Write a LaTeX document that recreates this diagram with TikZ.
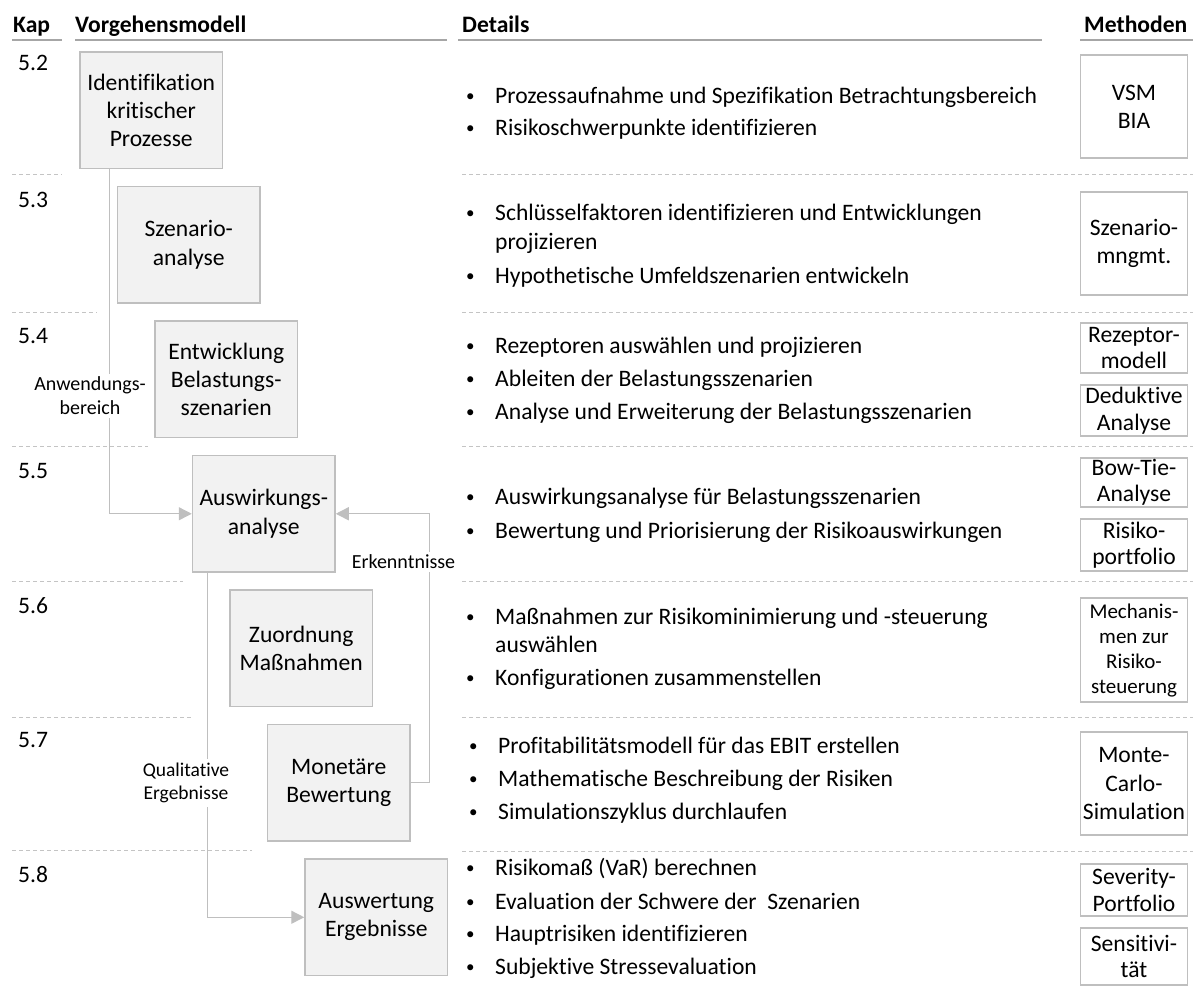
\documentclass[tikz,border=0pt]{standalone}
\usepackage{fontspec}
\setmainfont{Carlito}[Ligatures={NoCommon,NoContextual}]
\usetikzlibrary{arrows.meta,calc}

\definecolor{boxfill}{HTML}{F2F2F2}
\definecolor{boxline}{HTML}{BFBFBF}
\definecolor{sepline}{HTML}{C4C4C4}
\definecolor{rulecol}{HTML}{A6A6A6}

\newcommand{\mainfs}{\fontsize{23.6}{28.3}\selectfont}
\newcommand{\itembullet}{\makebox[29pt][l]{\raisebox{1.5pt}{\fontsize{17}{17}\selectfont\textbullet}}}

\begin{document}
\begin{tikzpicture}[x=1pt,y=-1pt,
  phase/.style={draw=boxline, fill=boxfill, line width=1.5pt,
    minimum width=142.5pt, minimum height=116.5pt, inner sep=0pt,
    align=center, font=\mainfs},
  method/.style={draw=boxline, fill=white, line width=1.5pt,
    minimum width=107pt, inner sep=0pt, align=center, font=\mainfs},
  smallmethod/.style={method, font=\fontsize{23.6}{26.5}\selectfont},
  conn/.style={draw=boxline, line width=1.4pt},
  arr/.style={conn, -{Triangle[length=13pt,width=13pt]}},
  flowlabel/.style={fill=white, inner sep=3pt, align=center,
    font=\fontsize{20}{24}\selectfont},
  item/.style={anchor=base west, inner sep=0pt, font=\fontsize{23.6}{29}\selectfont},
  chap/.style={anchor=base west, inner sep=0pt, font=\mainfs},
  head/.style={anchor=base west, inner sep=0pt, font=\mainfs\bfseries},
  sep/.style={draw=sepline, line width=1pt, dash pattern=on 4pt off 3pt},
  hrule/.style={draw=rulecol, line width=1.2pt}
]
\useasboundingbox (0,0) rectangle (1196,997);

% column headings
\node[head] (hKap) at (13,32) {Kap};
\node[head] (hVor) at (75,32) {Vorgehensmodell};
\node[head] (hDet) at (462,32) {Details};
\node[head] (hMet) at (1084,32) {Methoden};
\draw[hrule] (12,40) -- (62,40);
\draw[hrule] (75,40) -- (447,40);
\draw[hrule] (458,40) -- (1042,40);
\draw[hrule] (1080,40) -- (1193,40);

% chapter numbers
\node[chap] (k52) at (18,70) {5.2};
\node[chap] (k53) at (18,207) {5.3};
\node[chap] (k54) at (18,343) {5.4};
\node[chap] (k55) at (18,478) {5.5};
\node[chap] (k56) at (18,613) {5.6};
\node[chap] (k57) at (18,747) {5.7};
\node[chap] (k58) at (18,882) {5.8};

% dashed separators between the chapters
\draw[sep] (12,174) -- (62,174);
\draw[sep] (12,312) -- (97,312);
\draw[sep] (12,446) -- (148,446);
\draw[sep] (12,581) -- (183,581);
\draw[sep] (12,717) -- (192,717);
\draw[sep] (12,850) -- (252,850);
\foreach \yy in {174,312,446,581,717,851}
  \draw[sep] (462,\yy) -- (1193,\yy);

% process model
\node[phase] (B1) at (151.25,110.25) {Identifikation\\kritischer\\Prozesse};
\node[phase] (B2) at (188.75,244.75) {Szenario-\\analyse};
\node[phase] (B3) at (226.25,379.25) {Entwicklung\\Belastungs-\\szenarien};
\node[phase] (B4) at (263.75,513.75) {Auswirkungs-\\analyse};
\node[phase] (B5) at (301.25,648.25) {Zuordnung\\Maßnahmen};
\node[phase] (B6) at (338.75,782.75) {Monetäre\\Bewertung};
\node[phase] (B7) at (376.25,917.25) {Auswertung\\Ergebnisse};

% connectors
\draw[arr] ($(B1.south west)+(30,0)$) |- (B4.west);
\draw[arr] (B6.east) -- ++(19,0) |- (B4.east);
\draw[arr] ($(B4.south west)+(16,0)$) |- (B7.west);

\node[flowlabel] (lAnw) at (90,396) {Anwendungs-\\bereich};
\node[flowlabel, inner sep=2.5pt] (lErk) at (403.5,562) {Erkenntnisse};
\node[flowlabel, inner sep=4pt, font=\fontsize{19.5}{23}\selectfont] (lQual) at (186,783) {Qualitative\\Ergebnisse};

% details
\node[item] (d21) at (466,103) {\itembullet Prozessaufnahme und Spezifikation Betrachtungsbereich};
\node[item] (d22) at (466,135) {\itembullet Risikoschwerpunkte identifizieren};

\node[item] (d31) at (466,220) {\itembullet Schlüsselfaktoren identifizieren und Entwicklungen};
\node[item] (d31b) at (495,249) {projizieren};
\node[item] (d32) at (466,283) {\itembullet Hypothetische Umfeldszenarien entwickeln};

\node[item] (d41) at (466,353) {\itembullet Rezeptoren auswählen und projizieren};
\node[item] (d42) at (466,386) {\itembullet Ableiten der Belastungsszenarien};
\node[item] (d43) at (466,419) {\itembullet Analyse und Erweiterung der Belastungsszenarien};

\node[item] (d51) at (466,504) {\itembullet Auswirkungsanalyse für Belastungsszenarien};
\node[item] (d52) at (466,538) {\itembullet Bewertung und Priorisierung der Risikoauswirkungen};

\node[item] (d61) at (466,624) {\itembullet Maßnahmen zur Risikominimierung und -steuerung};
\node[item] (d61b) at (495,652) {auswählen};
\node[item] (d62) at (466,685) {\itembullet Konfigurationen zusammenstellen};

\node[item] (d71) at (469,753) {\itembullet Profitabilitätsmodell für das EBIT erstellen};
\node[item] (d72) at (469,786) {\itembullet Mathematische Beschreibung der Risiken};
\node[item] (d73) at (469,819) {\itembullet Simulationszyklus durchlaufen};

\node[item] (d81) at (466,875) {\itembullet Risikomaß (VaR) berechnen};
\node[item] (d82) at (466,909) {\itembullet Evaluation der Schwere der~ Szenarien};
\node[item] (d83) at (466,941) {\itembullet Hauptrisiken identifizieren};
\node[item] (d84) at (466,974) {\itembullet Subjektive Stressevaluation};

% methods
\node[method, minimum height=103pt] (M1) at (1134,106.5) {VSM\\BIA};
\node[method, minimum height=103pt] (M2) at (1134,243.5) {Szenario-\\mngmt.};
\node[smallmethod, minimum height=50pt] (M3) at (1134,348) {Rezeptor-\\modell};
\node[smallmethod, minimum height=51pt] (M4) at (1134,410.5) {Deduktive\\Analyse};
\node[smallmethod, minimum height=49pt] (M5) at (1134,482.5) {Bow-Tie-\\Analyse};
\node[smallmethod, minimum height=52pt] (M6) at (1134,545) {Risiko-\\portfolio};
\node[method, minimum height=104pt, font=\fontsize{21}{25}\selectfont] (M7) at (1134,650) {Mechanis-\\men zur\\Risiko-\\steuerung};
\node[method, minimum height=103pt] (M8) at (1134,783.5) {Monte-\\Carlo-\\Simulation};
\node[smallmethod, minimum height=52pt] (M9) at (1134,890) {Severity-\\Portfolio};
\node[smallmethod, minimum height=57pt] (M10) at (1134,956.5) {Sensitivi-\\tät};
\end{tikzpicture}
\end{document}
